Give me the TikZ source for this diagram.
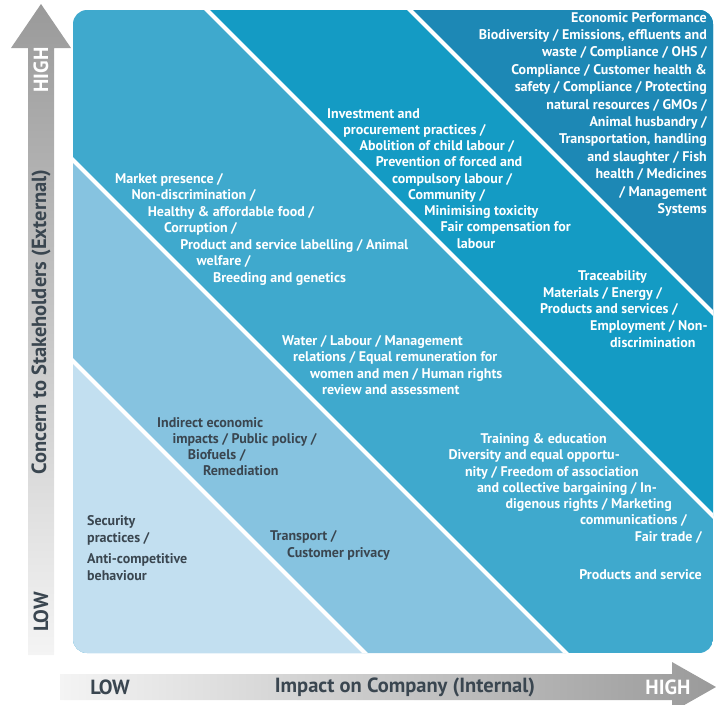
\documentclass[tikz,border=0pt]{standalone}
\usepackage{fontspec}
\setmainfont{PT Sans}
\usetikzlibrary{positioning}

\definecolor{bandA}{HTML}{C2DFF0}
\definecolor{bandB}{HTML}{86C3E0}
\definecolor{bandC}{HTML}{3FA9CD}
\definecolor{bandD}{HTML}{149BC4}
\definecolor{bandE}{HTML}{1D88B5}
\definecolor{inkdark}{HTML}{3A4650}
\definecolor{axisgray}{HTML}{9A9A9A}
\definecolor{axislight}{HTML}{F4F4F4}

\tikzset{
  txt/.style={font=\fontsize{14}{16}\selectfont\bfseries, text=white, inner sep=0pt},
  txtdark/.style={txt, text=inkdark},
  axislbl/.style={font=\fontsize{20.5}{23}\selectfont\bfseries, text=inkdark, inner sep=0pt},
  divider/.style={white, line width=4pt},
}

\begin{document}
\begin{tikzpicture}[x=1pt,y=-1pt]
    \useasboundingbox (0,0) rectangle (716,705);

    % Bands of the matrix
    \begin{scope}
        \clip[rounded corners=14pt] (73,10) rectangle (713,653);
        \fill[bandC] (73,10) rectangle (713,653);
        \fill[bandB] (0,87) -- (900,987) -- (0,987) -- cycle;
        \fill[bandA] (0,288) -- (900,1188) -- (0,1188) -- cycle;
        \fill[bandD] (197,0) -- (1000,803) -- (1000,0) -- cycle;
        \fill[bandE] (400,0) -- (1000,600) -- (1000,0) -- cycle;
        \foreach \c in {288,87,-197,-400}
            \draw[divider] (0,\c) -- (900,900+\c);
    \end{scope}

    % Axes
    \shade[top color=axisgray, bottom color=axislight]
        (28,655) -- (28,48) -- (11,48) -- (41,4) -- (71,48) -- (54,48) -- (54,655) -- cycle;
    \shade[left color=axislight, right color=axisgray]
        (60,674) -- (672,674) -- (672,662) -- (716,687) -- (672,712) -- (672,700) -- (60,700) -- cycle;

    \node[axislbl, text=white, rotate=90] (yhigh) at (41,70) {HIGH};
    \node[axislbl, rotate=90] (ylbl) at (41,322) {Concern to Stakeholders (External)};
    \node[axislbl, rotate=90] (ylow) at (41,612) {LOW};
    \node[axislbl] (xlow) at (110,687) {LOW};
    \node[axislbl] (xlbl) at (405,687) {Impact on Company (Internal)};
    \node[axislbl, text=white] (xhigh) at (668,687) {HIGH};

    % Top right band
    \foreach \t [count=\i from 0] in {Economic Performance, {Biodiversity / Emissions, effluents and},
        waste / Compliance / OHS /, Compliance / Customer health \&, safety / Compliance / Protecting,
        natural resources / GMOs /, Animal husbandry /, {Transportation, handling},
        and slaughter / Fish, health / Medicines, / Management, Systems}
        \node[txt, anchor=base east] (econ-\i) at (707,22+17.4*\i) {\t};

    % Second band
    \foreach \t [count=\i from 0] in {Investment and, procurement practices /, Abolition of child labour /,
        Prevention of forced and, compulsory labour /, Community /, Minimising toxicity,
        Fair compensation for, labour}
        \node[txt, anchor=base west] (invest-\i) at (327+16.2*\i,118+16.25*\i) {\t};
    \node[txt, anchor=base west] (trace-0) at (578,280) {Traceability};
    \node[txt, anchor=base west] (trace-1) at (543,297) {Materials / Energy /};
    \node[txt, anchor=base west] (trace-2) at (540,313) {Products and services /};
    \node[txt, anchor=base west] (trace-3) at (590,330) {Employment / Non-};
    \node[txt, anchor=base west] (trace-4) at (610,347) {discrimination};

    % Middle band
    \foreach \t [count=\i from 0] in {Market presence /, Non-discrimination /, Healthy \& affordable food /,
        Corruption /, Product and service labelling / Animal, welfare /, Breeding and genetics}
        \node[txt, anchor=base west] (market-\i) at (115+16.3*\i,183+16.5*\i) {\t};
    \node[txt, anchor=base west] (water-0) at (282,345) {Water / Labour / Management};
    \node[txt, anchor=base west] (water-1) at (293,361) {relations / Equal remuneration for};
    \node[txt, anchor=base west] (water-2) at (310,378) {women and men / Human rights};
    \node[txt, anchor=base west] (water-3) at (322,394) {review and assessment};
    \node[txt, anchor=base east] (train-0) at (607,443) {Training \& education};
    \node[txt, anchor=base east] (train-1) at (620,459) {Diversity and equal opportu-};
    \node[txt, anchor=base east] (train-2) at (639,476) {nity / Freedom of association};
    \node[txt, anchor=base east] (train-3) at (657,492) {and collective bargaining / In-};
    \node[txt, anchor=base east] (train-4) at (672,508) {digenous rights / Marketing};
    \node[txt, anchor=base east] (train-5) at (687,524) {communications /};
    \node[txt, anchor=base east] (train-6) at (702,541) {Fair trade /};
    \node[txt, anchor=base east] (prod) at (702,579) {Products and service};

    % Light band
    \foreach \t [count=\i from 0] in {Indirect economic, impacts / Public policy /, Biofuels /, Remediation}
        \node[txtdark, anchor=base west] (indirect-\i) at (157+15.3*\i,427+16*\i) {\t};
    \node[txtdark, anchor=base west] (transp-0) at (270,540) {Transport /};
    \node[txtdark, anchor=base west] (transp-1) at (287,557) {Customer privacy};

    % Lightest band
    \node[txtdark, anchor=base west] (secur-0) at (87,525) {Security};
    \node[txtdark, anchor=base west] (secur-1) at (87,542) {practices /};
    \node[txtdark, anchor=base west] (secur-2) at (87,563) {Anti-competitive};
    \node[txtdark, anchor=base west] (secur-3) at (87,580) {behaviour};
\end{tikzpicture}
\end{document}
